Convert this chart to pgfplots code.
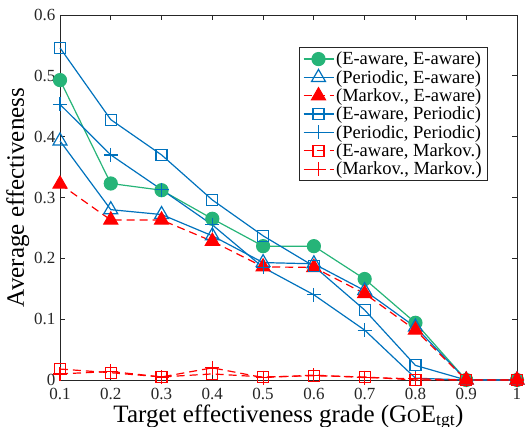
\documentclass[border=0pt]{standalone}
\usepackage{fontspec}
\setmainfont{Liberation Serif}
\usepackage{pgfplots}
\pgfplotsset{compat=1.18}
\definecolor{mgreen}{RGB}{38,180,120}
\definecolor{mblue}{RGB}{0,114,189}
\definecolor{mgray}{RGB}{38,38,38}
\begin{document}
\begin{tikzpicture}
\begin{axis}[
  scale only axis,
  width=457pt, height=365pt,
  xmin=0.1, xmax=1, ymin=0, ymax=0.6,
  xtick={0.1,0.2,0.3,0.4,0.5,0.6,0.7,0.8,0.9,1},
  ytick={0,0.1,0.2,0.3,0.4,0.5,0.6},
  xticklabels={0.1,0.2,0.3,0.4,0.5,0.6,0.7,0.8,0.9,1},
  yticklabels={0,0.1,0.2,0.3,0.4,0.5,0.6},
  tick align=inside,
  major tick length=5pt,
  axis line style={mgray, line width=0.8pt},
  tick style={mgray, line width=0.8pt},
  ticklabel style={font=\fontsize{17}{19}\selectfont, text=mgray},
  xticklabel style={yshift=-5pt},
  yticklabel style={xshift=-1pt},
  /pgf/number format/assume math mode=true,
  xlabel={Target effectiveness grade (G{\fontsize{19}{21}\selectfont O}E\textsubscript{tgt})},
  ylabel={Average effectiveness},
  label style={font=\fontsize{25}{27}\selectfont, text=black},
  xlabel style={yshift=2.5pt},
  ylabel style={yshift=-2pt},
  legend style={at={(0.9365,0.912)}, anchor=north east, draw=mgray, line width=0.6pt,
    font=\fontsize{18.5}{19}\selectfont, row sep=0pt, inner ysep=2.5pt, inner xsep=4pt},
  legend cell align=left,
  legend image code/.code={\draw[#1] (0pt,0pt) -- (15pt,0pt) -- (30pt,0pt); \draw[#1, solid] plot coordinates {(15pt,0pt)};},
  every axis plot/.append style={line width=1.2pt},
  clip=false,
]
\addplot[color=mgreen, mark=*, mark size=6.5pt] coordinates {
(0.1,0.493) (0.2,0.323) (0.3,0.312) (0.4,0.265) (0.5,0.220) (0.6,0.220) (0.7,0.166) (0.8,0.094) (0.9,0) (1,0)};
\addlegendentry{(E-aware, E-aware)}
\addplot[color=mblue, mark=triangle, mark size=8pt, mark options={solid, line width=1.2pt}] coordinates {
(0.1,0.393) (0.2,0.280) (0.3,0.272) (0.4,0.237) (0.5,0.193) (0.6,0.191) (0.7,0.147) (0.8,0.087) (0.9,0) (1,0)};
\addlegendentry{(Periodic, E-aware)}
\addplot[color=red, dashed, dash pattern=on 8pt off 5pt, mark=triangle*, mark size=8pt, mark options={solid}] coordinates {
(0.1,0.322) (0.2,0.263) (0.3,0.263) (0.4,0.228) (0.5,0.186) (0.6,0.185) (0.7,0.142) (0.8,0.082) (0.9,0) (1,0)};
\addlegendentry{(Markov., E-aware)}
\addplot[color=mblue, mark=square, mark size=5.5pt, mark options={solid}] coordinates {
(0.1,0.546) (0.2,0.428) (0.3,0.370) (0.4,0.296) (0.5,0.237) (0.6,0.187) (0.7,0.115) (0.8,0.024) (0.9,0) (1,0)};
\addlegendentry{(E-aware, Periodic)}
\addplot[color=mblue, mark=+, mark size=7pt, mark options={solid}] coordinates {
(0.1,0.453) (0.2,0.370) (0.3,0.313) (0.4,0.255) (0.5,0.185) (0.6,0.140) (0.7,0.082) (0.8,0.003) (0.9,0) (1,0)};
\addlegendentry{(Periodic, Periodic)}
\addplot[color=red, dashed, dash pattern=on 8pt off 5pt, mark=square, mark size=5.5pt, mark options={solid}] coordinates {
(0.1,0.018) (0.2,0.012) (0.3,0.005) (0.4,0.010) (0.5,0.005) (0.6,0.007) (0.7,0.005) (0.8,0.000) (0.9,0) (1,0)};
\addlegendentry{(E-aware, Markov.)}
\addplot[color=red, dashed, dash pattern=on 8pt off 5pt, mark=+, mark size=7pt, mark options={solid}] coordinates {
(0.1,0.010) (0.2,0.014) (0.3,0.005) (0.4,0.020) (0.5,0.004) (0.6,0.008) (0.7,0.004) (0.8,0.002) (0.9,0) (1,0)};
\addlegendentry{(Markov., Markov.)}
\end{axis}
\pgfresetboundingbox
\path (-60pt,-47pt) rectangle (468pt,380pt);
\end{tikzpicture}
\end{document}
